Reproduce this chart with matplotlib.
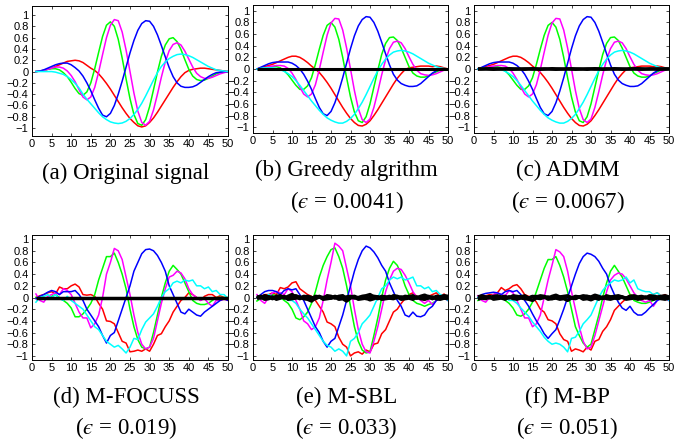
import numpy as np
import matplotlib
matplotlib.use("Agg")
import matplotlib.pyplot as plt

plt.rcParams["mathtext.fontset"] = "stix"

# sample index of the 50 time points
x = np.arange(1, 51)

# (a) original source signals
orig_red = [0.00, 0.01, 0.02, 0.04, 0.06, 0.09, 0.12, 0.15, 0.18, 0.19,
            0.20, 0.19, 0.16, 0.11, 0.06, 0.02, -0.04, -0.12, -0.21, -0.31,
            -0.42, -0.53, -0.64, -0.74, -0.83, -0.90, -0.96, -0.98, -0.96, -0.90,
            -0.82, -0.72, -0.61, -0.50, -0.39, -0.28, -0.18, -0.09, -0.02, 0.02,
            0.04, 0.05, 0.06, 0.06, 0.05, 0.04, 0.03, 0.02, 0.01, 0.00]
orig_blue = [0.00, 0.01, 0.03, 0.06, 0.09, 0.12, 0.14, 0.15, 0.15, 0.12,
             0.07, 0.01, -0.08, -0.20, -0.34, -0.50, -0.65, -0.77, -0.80, -0.74,
             -0.60, -0.40, -0.17, 0.08, 0.33, 0.55, 0.73, 0.85, 0.90, 0.89,
             0.80, 0.65, 0.46, 0.26, 0.07, -0.09, -0.20, -0.26, -0.28, -0.28,
             -0.27, -0.24, -0.19, -0.14, -0.09, -0.05, -0.02, -0.01, 0.00, 0.00]
orig_green = [0.00, 0.01, 0.02, 0.04, 0.05, 0.05, 0.03, -0.02, -0.09, -0.19,
              -0.30, -0.39, -0.42, -0.36, -0.20, 0.05, 0.34, 0.62, 0.82, 0.88,
              0.80, 0.57, 0.24, -0.13, -0.48, -0.76, -0.92, -0.95, -0.85, -0.62,
              -0.32, -0.01, 0.27, 0.47, 0.58, 0.60, 0.53, 0.39, 0.21, 0.04,
              -0.08, -0.14, -0.16, -0.15, -0.12, -0.08, -0.04, -0.02, -0.01, 0.00]
orig_magenta = [0.00, 0.01, 0.02, 0.04, 0.06, 0.08, 0.08, 0.06, 0.01, -0.07,
                -0.18, -0.32, -0.45, -0.50, -0.45, -0.28, -0.01, 0.30, 0.60, 0.82,
                0.92, 0.90, 0.70, 0.38, 0.00, -0.38, -0.70, -0.90, -0.95, -0.88,
                -0.68, -0.40, -0.10, 0.17, 0.37, 0.48, 0.51, 0.47, 0.36, 0.22,
                0.08, -0.03, -0.09, -0.12, -0.12, -0.10, -0.07, -0.04, -0.02, 0.00]
orig_cyan = [0.00, 0.00, 0.00, 0.00, 0.00, -0.01, -0.03, -0.05, -0.09, -0.14,
             -0.21, -0.29, -0.40, -0.49, -0.57, -0.65, -0.73, -0.80, -0.85, -0.89,
             -0.91, -0.92, -0.91, -0.88, -0.83, -0.76, -0.67, -0.56, -0.43, -0.29,
             -0.15, -0.02, 0.09, 0.17, 0.23, 0.27, 0.30, 0.31, 0.30, 0.28,
             0.25, 0.21, 0.17, 0.13, 0.09, 0.06, 0.03, 0.02, 0.01, 0.00]

# (b)/(c) smooth recoveries
sm_red = [0.00, 0.02, 0.04, 0.06, 0.08, 0.11, 0.14, 0.17, 0.20, 0.22,
          0.22, 0.20, 0.16, 0.11, 0.05, 0.00, -0.06, -0.14, -0.23, -0.33,
          -0.44, -0.55, -0.66, -0.76, -0.85, -0.92, -0.97, -0.98, -0.95, -0.89,
          -0.80, -0.70, -0.59, -0.48, -0.37, -0.26, -0.16, -0.08, -0.01, 0.02,
          0.03, 0.04, 0.05, 0.05, 0.05, 0.04, 0.05, 0.04, 0.02, 0.00]
sm_blue = [0.00, 0.03, 0.06, 0.09, 0.11, 0.12, 0.12, 0.12, 0.12, 0.10,
           0.06, 0.00, -0.09, -0.21, -0.35, -0.51, -0.66, -0.77, -0.80, -0.73,
           -0.58, -0.38, -0.15, 0.10, 0.35, 0.57, 0.74, 0.85, 0.90, 0.89,
           0.80, 0.65, 0.46, 0.26, 0.07, -0.09, -0.19, -0.25, -0.28, -0.30,
           -0.30, -0.29, -0.25, -0.19, -0.13, -0.07, -0.03, -0.01, 0.00, 0.00]
sm_green = [0.00, 0.01, 0.02, 0.03, 0.04, 0.04, 0.02, -0.03, -0.10, -0.19,
            -0.28, -0.35, -0.35, -0.29, -0.15, 0.08, 0.34, 0.58, 0.75, 0.80,
            0.72, 0.51, 0.20, -0.15, -0.48, -0.74, -0.89, -0.92, -0.82, -0.60,
            -0.31, -0.02, 0.25, 0.44, 0.54, 0.55, 0.49, 0.36, 0.20, 0.04,
            -0.07, -0.12, -0.14, -0.14, -0.12, -0.08, -0.05, -0.02, -0.01, 0.00]
sm_magenta = [0.00, 0.01, 0.02, 0.04, 0.05, 0.06, 0.06, 0.05, 0.01, -0.07,
              -0.18, -0.31, -0.43, -0.48, -0.43, -0.27, -0.01, 0.29, 0.58, 0.79,
              0.87, 0.86, 0.67, 0.36, 0.00, -0.37, -0.68, -0.87, -0.92, -0.86,
              -0.66, -0.39, -0.10, 0.16, 0.35, 0.46, 0.48, 0.45, 0.35, 0.21,
              0.08, -0.02, -0.08, -0.10, -0.11, -0.10, -0.08, -0.05, -0.02, 0.00]
sm_cyan = [0.00, 0.01, 0.02, 0.02, 0.02, 0.01, -0.01, -0.04, -0.08, -0.13,
           -0.20, -0.28, -0.37, -0.46, -0.55, -0.63, -0.71, -0.78, -0.84, -0.88,
           -0.91, -0.93, -0.93, -0.90, -0.85, -0.78, -0.68, -0.57, -0.44, -0.30,
           -0.16, -0.03, 0.08, 0.17, 0.24, 0.29, 0.31, 0.32, 0.31, 0.29,
           0.26, 0.22, 0.18, 0.14, 0.10, 0.07, 0.04, 0.02, 0.01, 0.00]

# (d) M-FOCUSS
fo_red = [0.00, 0.03, 0.05, 0.08, 0.10, 0.06, 0.18, 0.15, 0.15, 0.20,
          0.23, 0.18, 0.05, 0.04, 0.05, 0.02, -0.10, -0.20, -0.40, -0.41,
          -0.45, -0.60, -0.75, -0.78, -0.93, -0.92, -0.90, -0.92, -0.88, -0.92,
          -0.80, -0.65, -0.62, -0.50, -0.40, -0.25, -0.15, -0.05, 0.00, 0.08,
          0.05, 0.00, -0.05, 0.02, 0.05, 0.05, 0.00, 0.03, 0.00, -0.02]
fo_blue = [-0.02, 0.02, 0.05, 0.09, 0.12, 0.10, 0.05, 0.10, 0.10, 0.10,
           0.12, 0.05, -0.05, -0.20, -0.30, -0.40, -0.50, -0.65, -0.78, -0.65,
           -0.60, -0.40, -0.20, 0.00, 0.20, 0.45, 0.60, 0.75, 0.82, 0.83,
           0.80, 0.72, 0.60, 0.45, 0.20, 0.05, -0.10, -0.25, -0.28, -0.20,
           -0.25, -0.30, -0.32, -0.25, -0.20, -0.15, -0.10, -0.05, -0.02, -0.05]
fo_green = [0.00, -0.01, -0.02, 0.00, 0.02, 0.05, 0.00, -0.05, -0.10, -0.18,
            -0.33, -0.33, -0.28, -0.20, -0.10, 0.05, 0.30, 0.50, 0.70, 0.70,
            0.76, 0.60, 0.40, 0.15, -0.20, -0.50, -0.72, -0.85, -0.88, -0.85,
            -0.60, -0.30, 0.00, 0.25, 0.45, 0.55, 0.48, 0.40, 0.25, 0.10,
            -0.05, -0.10, -0.12, -0.12, -0.10, -0.05, 0.00, 0.00, 0.00, 0.00]
fo_magenta = [0.06, -0.05, -0.08, 0.02, 0.05, 0.08, 0.05, 0.15, 0.12, 0.05,
              -0.10, -0.25, -0.35, -0.35, -0.52, -0.45, -0.30, 0.00, 0.40, 0.60,
              0.84, 0.80, 0.65, 0.35, 0.05, -0.30, -0.60, -0.80, -0.88, -0.85,
              -0.70, -0.40, -0.10, 0.15, 0.35, 0.38, 0.45, 0.42, 0.32, 0.15,
              0.05, 0.00, -0.05, -0.02, -0.10, -0.15, -0.05, -0.05, -0.03, -0.05]
fo_cyan = [-0.08, 0.00, 0.02, 0.05, 0.00, 0.05, -0.02, -0.05, 0.02, -0.05,
           -0.10, -0.15, -0.20, -0.30, -0.40, -0.50, -0.55, -0.65, -0.75, -0.80,
           -0.85, -0.82, -0.88, -0.95, -0.85, -0.70, -0.72, -0.55, -0.42, -0.35,
           -0.28, -0.15, 0.00, 0.10, 0.15, 0.25, 0.28, 0.25, 0.30, 0.28,
           0.30, 0.20, 0.20, 0.15, 0.18, 0.10, 0.12, 0.05, 0.05, -0.02]

# (e) M-SBL
sbl_red = [0.00, 0.02, 0.05, 0.05, 0.08, 0.05, 0.17, 0.15, 0.18, 0.25,
           0.27, 0.15, 0.10, 0.05, 0.02, -0.05, -0.15, -0.25, -0.42, -0.45,
           -0.50, -0.68, -0.80, -0.85, -1.00, -0.95, -0.93, -0.97, -0.90, -0.93,
           -0.80, -0.78, -0.62, -0.55, -0.40, -0.25, -0.20, -0.10, -0.02, 0.05,
           0.08, 0.02, 0.00, -0.05, 0.02, 0.05, 0.08, 0.02, 0.06, 0.00]
sbl_blue = [0.00, 0.05, 0.10, 0.12, 0.12, 0.10, 0.05, 0.12, 0.15, 0.13,
            0.15, 0.05, -0.05, -0.20, -0.35, -0.50, -0.60, -0.75, -0.85, -0.75,
            -0.70, -0.50, -0.30, -0.05, 0.20, 0.45, 0.65, 0.80, 0.88, 0.85,
            0.78, 0.68, 0.55, 0.45, 0.25, 0.10, -0.05, -0.15, -0.30, -0.33,
            -0.25, -0.32, -0.33, -0.30, -0.20, -0.15, -0.05, -0.02, 0.00, -0.05]
sbl_green = [-0.06, -0.02, 0.00, 0.03, 0.05, 0.03, 0.00, -0.05, -0.10, -0.20,
             -0.35, -0.38, -0.33, -0.25, -0.10, 0.10, 0.35, 0.55, 0.70, 0.82,
             0.85, 0.70, 0.50, 0.20, -0.15, -0.50, -0.75, -0.90, -0.95, -0.93,
             -0.65, -0.35, 0.00, 0.30, 0.50, 0.62, 0.55, 0.40, 0.20, 0.05,
             -0.05, -0.10, -0.12, -0.15, -0.12, -0.10, -0.05, 0.00, 0.02, 0.00]
sbl_magenta = [0.05, -0.05, -0.10, 0.00, 0.08, 0.10, 0.08, 0.05, 0.15, 0.10,
               -0.05, -0.20, -0.40, -0.45, -0.55, -0.50, -0.35, -0.05, 0.30, 0.60,
               0.93, 0.88, 0.80, 0.50, 0.20, -0.20, -0.55, -0.80, -0.93, -0.95,
               -0.75, -0.50, -0.20, 0.10, 0.30, 0.45, 0.50, 0.48, 0.38, 0.25,
               0.10, 0.00, -0.05, -0.10, -0.05, -0.12, -0.05, 0.02, 0.00, -0.05]
sbl_cyan = [0.00, 0.02, 0.00, 0.05, 0.02, 0.00, -0.02, 0.00, -0.05, -0.05,
            -0.10, -0.20, -0.28, -0.35, -0.45, -0.55, -0.65, -0.75, -0.82, -0.85,
            -0.92, -0.88, -0.92, -1.00, -0.75, -0.70, -0.60, -0.45, -0.38, -0.30,
            -0.15, 0.00, 0.15, 0.20, 0.30, 0.35, 0.32, 0.35, 0.30, 0.32,
            0.35, 0.20, 0.20, 0.15, 0.18, 0.10, 0.12, 0.05, 0.02, -0.05]

# (f) M-BP
bp_red = [0.00, 0.02, 0.03, 0.05, 0.05, 0.08, 0.17, 0.12, 0.15, 0.20,
          0.22, 0.15, 0.05, 0.02, 0.00, -0.08, -0.20, -0.25, -0.38, -0.40,
          -0.45, -0.62, -0.72, -0.75, -0.92, -0.88, -0.90, -0.93, -0.85, -0.90,
          -0.75, -0.72, -0.58, -0.50, -0.38, -0.22, -0.15, -0.08, -0.02, 0.05,
          0.02, 0.00, -0.05, 0.00, 0.03, 0.05, 0.08, 0.02, 0.05, 0.00]
bp_blue = [0.00, 0.05, 0.07, 0.08, 0.09, 0.08, 0.05, 0.10, 0.12, 0.10,
           0.12, 0.05, -0.05, -0.15, -0.28, -0.40, -0.50, -0.62, -0.70, -0.62,
           -0.55, -0.38, -0.20, 0.00, 0.20, 0.40, 0.58, 0.70, 0.76, 0.74,
           0.70, 0.62, 0.50, 0.40, 0.20, 0.05, -0.08, -0.18, -0.22, -0.15,
           -0.25, -0.30, -0.30, -0.25, -0.18, -0.12, -0.05, -0.02, 0.00, -0.05]
bp_green = [-0.05, -0.02, 0.00, 0.02, 0.04, 0.02, 0.00, -0.05, -0.10, -0.18,
            -0.30, -0.32, -0.28, -0.20, -0.08, 0.10, 0.30, 0.50, 0.65, 0.65,
            0.70, 0.55, 0.35, 0.10, -0.20, -0.50, -0.65, -0.78, -0.85, -0.80,
            -0.55, -0.30, 0.00, 0.25, 0.45, 0.55, 0.45, 0.35, 0.20, 0.05,
            -0.05, -0.08, -0.10, -0.10, -0.08, -0.05, -0.02, 0.00, 0.00, 0.00]
bp_magenta = [0.03, -0.05, -0.08, 0.00, 0.05, 0.08, 0.05, 0.03, 0.12, 0.08,
              -0.05, -0.20, -0.35, -0.35, -0.50, -0.45, -0.30, 0.00, 0.30, 0.55,
              0.82, 0.78, 0.70, 0.45, 0.10, -0.20, -0.50, -0.75, -0.88, -0.85,
              -0.65, -0.40, -0.15, 0.10, 0.30, 0.38, 0.42, 0.40, 0.32, 0.20,
              0.08, 0.00, -0.05, -0.08, -0.05, -0.15, -0.05, 0.00, -0.02, -0.05]
bp_cyan = [0.00, 0.02, 0.00, 0.03, 0.02, 0.00, -0.02, 0.00, -0.05, -0.05,
           -0.10, -0.18, -0.25, -0.32, -0.42, -0.50, -0.58, -0.68, -0.75, -0.80,
           -0.78, -0.80, -0.85, -0.93, -0.70, -0.68, -0.58, -0.45, -0.38, -0.30,
           -0.15, 0.00, 0.12, 0.20, 0.25, 0.30, 0.28, 0.30, 0.35, 0.25,
           0.30, 0.15, 0.12, 0.10, 0.10, 0.05, 0.08, 0.02, 0.02, -0.05]

# the remaining (should-be-zero) rows, drawn in black
zero_row = [0.0] * 50
admm_k1 = [0.006, 0.004, 0.006, 0.008, 0.006, 0.005, 0.004, 0.006, 0.008, 0.006,
           0.005, 0.004, 0.006, 0.006, 0.008, 0.006, 0.004, 0.006, 0.005, 0.008,
           0.006, 0.005, 0.004, 0.006, 0.008, 0.006, 0.005, 0.004, 0.006, 0.006,
           0.008, 0.006, 0.004, 0.006, 0.005, 0.008, 0.006, 0.005, 0.004, 0.006,
           0.006, 0.008, 0.006, 0.004, 0.006, 0.005, 0.006, 0.004, 0.006, 0.006]
admm_k2 = [-0.006, -0.005, -0.004, -0.006, -0.008, -0.006, -0.005, -0.004, -0.006, -0.008,
           -0.006, -0.005, -0.008, -0.004, -0.006, -0.005, -0.008, -0.006, -0.004, -0.006,
           -0.008, -0.006, -0.005, -0.004, -0.006, -0.008, -0.006, -0.005, -0.008, -0.004,
           -0.006, -0.005, -0.008, -0.006, -0.004, -0.006, -0.005, -0.008, -0.006, -0.005,
           -0.004, -0.006, -0.008, -0.006, -0.005, -0.004, -0.006, -0.005, -0.006, -0.004]
sbl_k1 = [0.02, -0.01, 0.03, 0.01, -0.02, 0.02, 0.03, -0.01, 0.02, 0.05,
          0.01, -0.02, 0.02, 0.01, -0.03, 0.02, 0.01, -0.02, 0.03, 0.02,
          -0.01, 0.02, 0.03, -0.02, 0.01, 0.02, -0.01, 0.02, 0.03, 0.05,
          0.01, -0.02, 0.02, 0.01, -0.01, 0.03, 0.02, -0.01, 0.02, 0.01,
          0.03, -0.01, 0.02, 0.04, 0.01, -0.02, 0.02, 0.01, 0.03, 0.02]
sbl_k2 = [-0.02, 0.01, -0.03, -0.02, 0.01, -0.03, -0.01, 0.02, -0.03, -0.02,
          -0.01, 0.01, -0.02, -0.03, -0.06, -0.01, 0.02, -0.03, -0.02, -0.01,
          0.01, -0.03, -0.02, -0.06, -0.01, 0.01, -0.03, -0.02, -0.01, -0.04,
          -0.02, 0.01, -0.03, -0.02, -0.01, -0.02, 0.01, -0.03, -0.02, -0.01,
          -0.03, 0.01, -0.02, -0.03, -0.01, 0.01, -0.02, -0.03, -0.01, -0.02]
sbl_k3 = [0.00, 0.02, -0.01, 0.01, 0.00, -0.01, 0.02, 0.00, -0.01, 0.01,
          0.03, 0.00, -0.01, 0.02, 0.00, -0.02, 0.01, 0.00, 0.01, -0.01,
          0.02, 0.00, -0.01, 0.01, 0.02, -0.01, 0.00, 0.01, -0.02, 0.00,
          0.02, 0.01, -0.01, 0.00, 0.02, -0.01, 0.00, 0.01, -0.01, 0.02,
          0.00, -0.01, 0.01, 0.00, 0.02, -0.01, 0.00, 0.01, -0.01, 0.00]
bp_k1 = [0.01, 0.03, 0.01, -0.01, 0.02, 0.03, 0.01, 0.02, -0.01, 0.03,
         0.02, 0.01, 0.03, -0.01, 0.02, 0.01, 0.03, 0.02, -0.01, 0.02,
         0.04, 0.01, 0.02, 0.03, -0.01, 0.02, 0.01, 0.03, 0.02, 0.01,
         0.04, 0.02, -0.01, 0.03, 0.01, 0.02, 0.03, 0.01, -0.01, 0.02,
         0.03, 0.01, 0.02, -0.01, 0.03, 0.02, 0.01, 0.02, 0.03, 0.01]
bp_k2 = [-0.03, -0.01, -0.02, 0.01, -0.03, -0.02, -0.01, -0.03, 0.01, -0.02,
         -0.03, -0.01, -0.02, -0.03, -0.05, -0.01, -0.02, 0.01, -0.03, -0.02,
         -0.01, -0.03, -0.02, -0.05, -0.01, -0.02, 0.01, -0.03, -0.02, -0.04,
         -0.01, -0.03, 0.01, -0.02, -0.03, -0.01, -0.02, 0.01, -0.03, -0.02,
         -0.01, -0.03, -0.02, 0.01, -0.02, -0.03, -0.01, -0.02, -0.03, -0.01]
bp_k3 = [0.01, -0.01, 0.00, 0.02, -0.01, 0.01, 0.00, -0.02, 0.01, 0.00,
         -0.01, 0.02, 0.00, -0.01, 0.01, 0.02, -0.01, 0.00, 0.01, -0.02,
         0.00, 0.01, -0.01, 0.02, 0.00, -0.01, 0.01, 0.00, 0.02, -0.01,
         0.00, 0.01, -0.02, 0.00, 0.01, -0.01, 0.02, 0.00, -0.01, 0.01,
         0.00, -0.02, 0.01, 0.00, -0.01, 0.02, 0.00, -0.01, 0.01, 0.00]

COLORS = ["#ff0000", "#00ff00", "#ff00ff", "#0000ff", "#00ffff"]

W, H = 683, 442
EPS = "$\u03f5$"  # lunate epsilon, italic via the STIX math font
# (left, top, right, bottom) in pixels, ylim, curves, black rows, black lw, caption lines
panels = [
    ((32, 6, 228, 136), (-1.14, 1.16),
     [orig_red, orig_green, orig_magenta, orig_blue, orig_cyan], [], 0,
     ["(a) Original signal"], [173]),
    ((253, 5, 448, 133), (-1.1, 1.1),
     [sm_red, sm_green, sm_magenta, sm_blue, sm_cyan], [zero_row], 2.2,
     ["(b) Greedy algrithm", f"({EPS} = 0.0041)"], [170, 202]),
    ((474, 5, 669, 133), (-1.1, 1.1),
     [sm_red, sm_green, sm_magenta, sm_blue, sm_cyan], [admm_k1, admm_k2], 2.2,
     ["(c) ADMM", f"({EPS} = 0.0067)"], [170, 202]),
    ((32, 235, 228, 360), (-1.07, 1.07),
     [fo_red, fo_green, fo_magenta, fo_blue, fo_cyan], [zero_row], 2.5,
     ["(d) M-FOCUSS", f"({EPS} = 0.019)"], [397, 428]),
    ((253, 235, 448, 360), (-1.07, 1.07),
     [sbl_red, sbl_green, sbl_magenta, sbl_blue, sbl_cyan], [sbl_k1, sbl_k2, sbl_k3], 2.5,
     ["(e) M-SBL", f"({EPS} = 0.033)"], [397, 428]),
    ((474, 235, 669, 360), (-1.07, 1.07),
     [bp_red, bp_green, bp_magenta, bp_blue, bp_cyan], [bp_k1, bp_k2, bp_k3], 2.4,
     ["(f) M-BP", f"({EPS} = 0.051)"], [397, 428]),
]

fig = plt.figure(figsize=(W / 100, H / 100), dpi=100)
for (l, t, r, b), ylim, curves, blacks, blw, caps, cap_y in panels:
    ax = fig.add_axes([l / W, 1 - b / H, (r - l) / W, (b - t) / H])
    for ys, c in zip(curves, COLORS):
        ax.plot(x, ys, color=c, lw=1.1)
    for ys in blacks:
        ax.plot(x, ys, color="black", lw=blw, solid_capstyle="butt")
    ax.set_xlim(0, 50)
    ax.set_ylim(*ylim)
    ax.set_xticks(range(0, 51, 5))
    yt = np.round(np.arange(-1, 1.01, 0.2), 1)
    ax.set_yticks(yt)
    ax.set_yticklabels(["0" if v == 0 else f"{v:g}".replace("-", "\u2212") for v in yt])
    ax.tick_params(direction="in", length=2.5, width=0.5, top=True, right=True,
                   labelsize=8, pad=2.5)
    for lab in ax.get_xticklabels() + ax.get_yticklabels():
        lab.set_family("Liberation Sans")
    for sp in ax.spines.values():
        sp.set_linewidth(0.7)
    cx = (l + r) / 2 - 4
    for txt, yc in zip(caps, cap_y):
        fig.text(cx / W, 1 - yc / H, txt, ha="center", va="center",
                 fontsize=16.5, family="Liberation Serif")

fig.savefig("out.png", dpi=100)
